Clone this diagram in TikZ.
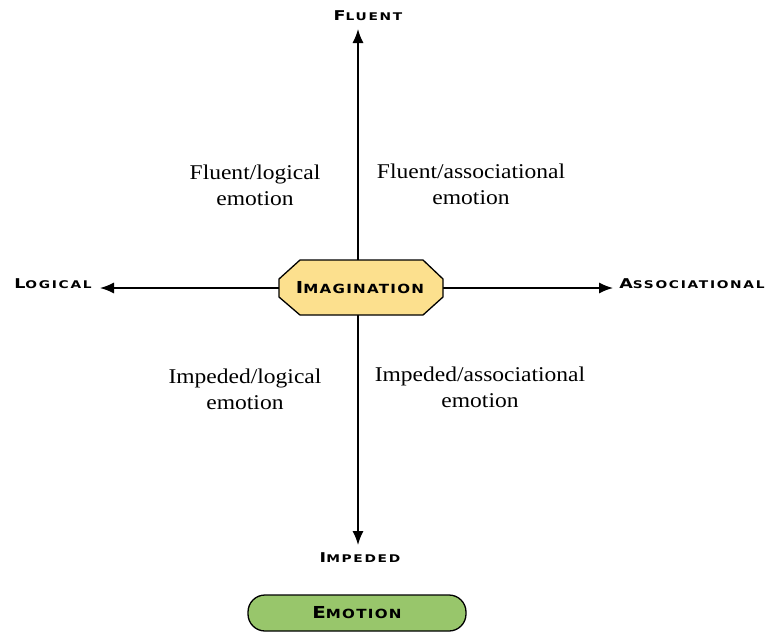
\documentclass[tikz,border=0pt]{standalone}
\usepackage{fontspec}
\setmainfont[FakeStretch=1.12]{Liberation Serif}
\newfontfamily\capsfont[LetterSpace=16,FakeStretch=1.3]{DejaVu Sans Bold}
\newfontfamily\bigcapsfont[LetterSpace=10,FakeStretch=1.2]{DejaVu Sans Bold}
\usetikzlibrary{arrows.meta}
\definecolor{octfill}{HTML}{FCE08E}
\definecolor{pillfill}{HTML}{98C66B}
% Hand-made small capitals: a large initial followed by smaller capitals
\newcommand{\capsword}[2]{{\capsfont\fontsize{13.5}{14}\selectfont #1\fontsize{10.6}{11}\selectfont #2}}
\newcommand{\bigcapsword}[2]{{\bigcapsfont\fontsize{16.5}{17}\selectfont #1\fontsize{12.6}{13}\selectfont #2}}
\tikzset{
  axis/.style={line width=1.4pt, -{Latex[length=14pt,width=11pt]}},
  axislabel/.style={inner sep=0pt, anchor=center},
  quadtext/.style={align=center, font=\fontsize{21}{26}\selectfont, inner sep=0pt},
  octbox/.style={draw=black, line width=1.3pt, fill=octfill},
  pillbox/.style={draw=black, line width=1.3pt, fill=pillfill, rounded corners=17pt,
    minimum width=218pt, minimum height=36pt, inner sep=0pt}
}
\begin{document}
\begin{tikzpicture}[x=1pt,y=-1pt]
\useasboundingbox (0,0) rectangle (766,633);
% centre
\coordinate (c) at (358,288);
% axis ends
\coordinate (up) at (358,29);
\coordinate (down) at (358,545);
\coordinate (left) at (100,288);
\coordinate (right) at (613,288);
\draw[axis] (c) -- (up);
\draw[axis] (c) -- (down);
\draw[axis] (c) -- (left);
\draw[axis] (c) -- (right);
% central octagon
\draw[octbox] (300,260) -- (423,260) -- (443,279) -- (443,297) -- (423,315)
  -- (300,315) -- (279,297) -- (279,279) -- cycle;
\node[axislabel] (imag) at (360,288) {\bigcapsword{I}{MAGINATION}};
% axis labels
\node[axislabel] (fluent) at (368,16) {\capsword{F}{LUENT}};
\node[axislabel] (logical) at (53,284) {\capsword{L}{OGICAL}};
\node[axislabel] (assoc) at (692,284) {\capsword{A}{SSOCIATIONAL}};
\node[axislabel] (impeded) at (360,558) {\capsword{I}{MPEDED}};
% quadrants
\node[quadtext] (fl) at (255,185) {Fluent/logical\\emotion};
\node[quadtext] (fa) at (471,184) {Fluent/associational\\emotion};
\node[quadtext] (il) at (245,389) {Impeded/logical\\emotion};
\node[quadtext] (ia) at (480,387) {Impeded/associational\\emotion};
% emotion pill
\node[pillbox] (emo) at (357,613) {\bigcapsword{E}{MOTION}};
\end{tikzpicture}
\end{document}
